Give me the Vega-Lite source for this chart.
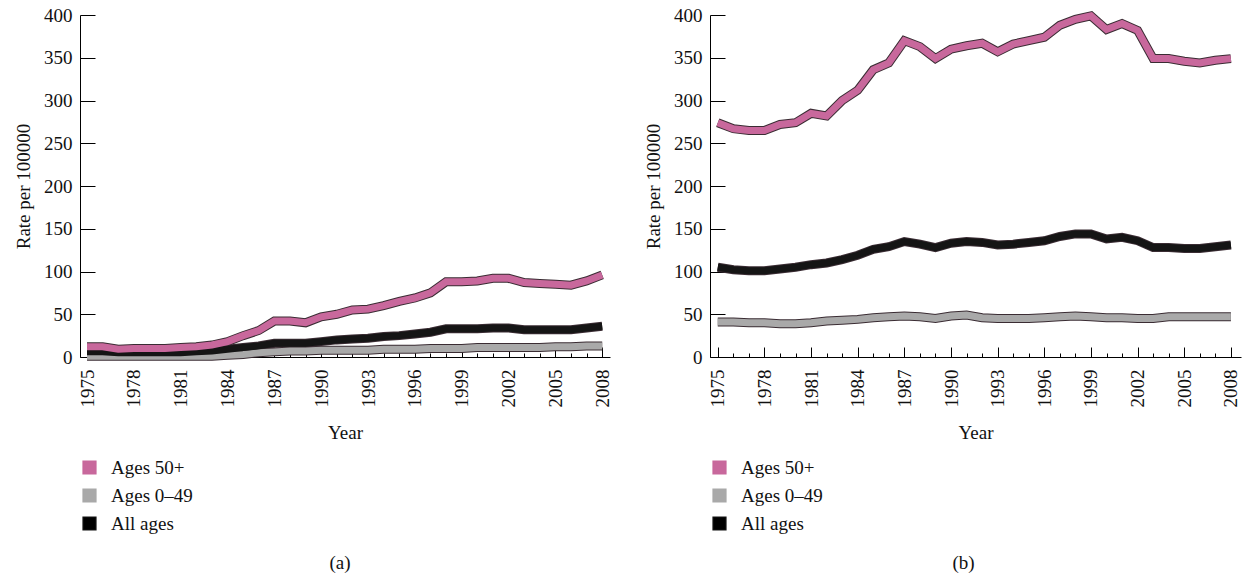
{
  "$schema": "https://vega.github.io/schema/vega-lite/v6.json",
  "padding": {"left": 14, "top": -3, "right": 0, "bottom": 0},
  "background": "white",
  "spacing": 100,
  "bounds": "flush",
  "datasets": {
    "a": [
      {"series": "Ages 0–49", "year": 1975, "rate": 1}, {"series": "Ages 0–49", "year": 1976, "rate": 1}, {"series": "Ages 0–49", "year": 1977, "rate": 1}, {"series": "Ages 0–49", "year": 1978, "rate": 1}, {"series": "Ages 0–49", "year": 1979, "rate": 1}, {"series": "Ages 0–49", "year": 1980, "rate": 1}, {"series": "Ages 0–49", "year": 1981, "rate": 1}, {"series": "Ages 0–49", "year": 1982, "rate": 1}, {"series": "Ages 0–49", "year": 1983, "rate": 1}, {"series": "Ages 0–49", "year": 1984, "rate": 2}, {"series": "Ages 0–49", "year": 1985, "rate": 3}, {"series": "Ages 0–49", "year": 1986, "rate": 5}, {"series": "Ages 0–49", "year": 1987, "rate": 6}, {"series": "Ages 0–49", "year": 1988, "rate": 7}, {"series": "Ages 0–49", "year": 1989, "rate": 7}, {"series": "Ages 0–49", "year": 1990, "rate": 8}, {"series": "Ages 0–49", "year": 1991, "rate": 8}, {"series": "Ages 0–49", "year": 1992, "rate": 8}, {"series": "Ages 0–49", "year": 1993, "rate": 8}, {"series": "Ages 0–49", "year": 1994, "rate": 9}, {"series": "Ages 0–49", "year": 1995, "rate": 9}, {"series": "Ages 0–49", "year": 1996, "rate": 9}, {"series": "Ages 0–49", "year": 1997, "rate": 10}, {"series": "Ages 0–49", "year": 1998, "rate": 10}, {"series": "Ages 0–49", "year": 1999, "rate": 10}, {"series": "Ages 0–49", "year": 2000, "rate": 11}, {"series": "Ages 0–49", "year": 2001, "rate": 11}, {"series": "Ages 0–49", "year": 2002, "rate": 11}, {"series": "Ages 0–49", "year": 2003, "rate": 11}, {"series": "Ages 0–49", "year": 2004, "rate": 11}, {"series": "Ages 0–49", "year": 2005, "rate": 12}, {"series": "Ages 0–49", "year": 2006, "rate": 12}, {"series": "Ages 0–49", "year": 2007, "rate": 13}, {"series": "Ages 0–49", "year": 2008, "rate": 13},
      {"series": "All ages", "year": 1975, "rate": 6}, {"series": "All ages", "year": 1976, "rate": 6}, {"series": "All ages", "year": 1977, "rate": 5}, {"series": "All ages", "year": 1978, "rate": 5}, {"series": "All ages", "year": 1979, "rate": 5}, {"series": "All ages", "year": 1980, "rate": 5}, {"series": "All ages", "year": 1981, "rate": 5}, {"series": "All ages", "year": 1982, "rate": 6}, {"series": "All ages", "year": 1983, "rate": 7}, {"series": "All ages", "year": 1984, "rate": 9}, {"series": "All ages", "year": 1985, "rate": 11}, {"series": "All ages", "year": 1986, "rate": 13}, {"series": "All ages", "year": 1987, "rate": 16}, {"series": "All ages", "year": 1988, "rate": 16}, {"series": "All ages", "year": 1989, "rate": 16}, {"series": "All ages", "year": 1990, "rate": 18}, {"series": "All ages", "year": 1991, "rate": 20}, {"series": "All ages", "year": 1992, "rate": 21}, {"series": "All ages", "year": 1993, "rate": 22}, {"series": "All ages", "year": 1994, "rate": 24}, {"series": "All ages", "year": 1995, "rate": 25}, {"series": "All ages", "year": 1996, "rate": 27}, {"series": "All ages", "year": 1997, "rate": 29}, {"series": "All ages", "year": 1998, "rate": 33}, {"series": "All ages", "year": 1999, "rate": 33}, {"series": "All ages", "year": 2000, "rate": 33}, {"series": "All ages", "year": 2001, "rate": 34}, {"series": "All ages", "year": 2002, "rate": 34}, {"series": "All ages", "year": 2003, "rate": 32}, {"series": "All ages", "year": 2004, "rate": 32}, {"series": "All ages", "year": 2005, "rate": 32}, {"series": "All ages", "year": 2006, "rate": 32}, {"series": "All ages", "year": 2007, "rate": 34}, {"series": "All ages", "year": 2008, "rate": 36},
      {"series": "Ages 50+", "year": 1975, "rate": 12}, {"series": "Ages 50+", "year": 1976, "rate": 12}, {"series": "Ages 50+", "year": 1977, "rate": 9}, {"series": "Ages 50+", "year": 1978, "rate": 10}, {"series": "Ages 50+", "year": 1979, "rate": 10}, {"series": "Ages 50+", "year": 1980, "rate": 10}, {"series": "Ages 50+", "year": 1981, "rate": 11}, {"series": "Ages 50+", "year": 1982, "rate": 12}, {"series": "Ages 50+", "year": 1983, "rate": 14}, {"series": "Ages 50+", "year": 1984, "rate": 18}, {"series": "Ages 50+", "year": 1985, "rate": 25}, {"series": "Ages 50+", "year": 1986, "rate": 31}, {"series": "Ages 50+", "year": 1987, "rate": 42}, {"series": "Ages 50+", "year": 1988, "rate": 42}, {"series": "Ages 50+", "year": 1989, "rate": 40}, {"series": "Ages 50+", "year": 1990, "rate": 47}, {"series": "Ages 50+", "year": 1991, "rate": 50}, {"series": "Ages 50+", "year": 1992, "rate": 55}, {"series": "Ages 50+", "year": 1993, "rate": 56}, {"series": "Ages 50+", "year": 1994, "rate": 60}, {"series": "Ages 50+", "year": 1995, "rate": 65}, {"series": "Ages 50+", "year": 1996, "rate": 69}, {"series": "Ages 50+", "year": 1997, "rate": 75}, {"series": "Ages 50+", "year": 1998, "rate": 88}, {"series": "Ages 50+", "year": 1999, "rate": 88}, {"series": "Ages 50+", "year": 2000, "rate": 89}, {"series": "Ages 50+", "year": 2001, "rate": 92}, {"series": "Ages 50+", "year": 2002, "rate": 92}, {"series": "Ages 50+", "year": 2003, "rate": 87}, {"series": "Ages 50+", "year": 2004, "rate": 86}, {"series": "Ages 50+", "year": 2005, "rate": 85}, {"series": "Ages 50+", "year": 2006, "rate": 84}, {"series": "Ages 50+", "year": 2007, "rate": 89}, {"series": "Ages 50+", "year": 2008, "rate": 96}
    ],
    "b": [
      {"series": "Ages 0–49", "year": 1975, "rate": 41}, {"series": "Ages 0–49", "year": 1976, "rate": 41}, {"series": "Ages 0–49", "year": 1977, "rate": 40}, {"series": "Ages 0–49", "year": 1978, "rate": 40}, {"series": "Ages 0–49", "year": 1979, "rate": 39}, {"series": "Ages 0–49", "year": 1980, "rate": 39}, {"series": "Ages 0–49", "year": 1981, "rate": 40}, {"series": "Ages 0–49", "year": 1982, "rate": 42}, {"series": "Ages 0–49", "year": 1983, "rate": 43}, {"series": "Ages 0–49", "year": 1984, "rate": 44}, {"series": "Ages 0–49", "year": 1985, "rate": 46}, {"series": "Ages 0–49", "year": 1986, "rate": 47}, {"series": "Ages 0–49", "year": 1987, "rate": 48}, {"series": "Ages 0–49", "year": 1988, "rate": 47}, {"series": "Ages 0–49", "year": 1989, "rate": 45}, {"series": "Ages 0–49", "year": 1990, "rate": 48}, {"series": "Ages 0–49", "year": 1991, "rate": 49}, {"series": "Ages 0–49", "year": 1992, "rate": 46}, {"series": "Ages 0–49", "year": 1993, "rate": 45}, {"series": "Ages 0–49", "year": 1994, "rate": 45}, {"series": "Ages 0–49", "year": 1995, "rate": 45}, {"series": "Ages 0–49", "year": 1996, "rate": 46}, {"series": "Ages 0–49", "year": 1997, "rate": 47}, {"series": "Ages 0–49", "year": 1998, "rate": 48}, {"series": "Ages 0–49", "year": 1999, "rate": 47}, {"series": "Ages 0–49", "year": 2000, "rate": 46}, {"series": "Ages 0–49", "year": 2001, "rate": 46}, {"series": "Ages 0–49", "year": 2002, "rate": 45}, {"series": "Ages 0–49", "year": 2003, "rate": 45}, {"series": "Ages 0–49", "year": 2004, "rate": 47}, {"series": "Ages 0–49", "year": 2005, "rate": 47}, {"series": "Ages 0–49", "year": 2006, "rate": 47}, {"series": "Ages 0–49", "year": 2007, "rate": 47}, {"series": "Ages 0–49", "year": 2008, "rate": 47},
      {"series": "All ages", "year": 1975, "rate": 105}, {"series": "All ages", "year": 1976, "rate": 102}, {"series": "All ages", "year": 1977, "rate": 101}, {"series": "All ages", "year": 1978, "rate": 101}, {"series": "All ages", "year": 1979, "rate": 103}, {"series": "All ages", "year": 1980, "rate": 105}, {"series": "All ages", "year": 1981, "rate": 108}, {"series": "All ages", "year": 1982, "rate": 110}, {"series": "All ages", "year": 1983, "rate": 114}, {"series": "All ages", "year": 1984, "rate": 119}, {"series": "All ages", "year": 1985, "rate": 126}, {"series": "All ages", "year": 1986, "rate": 129}, {"series": "All ages", "year": 1987, "rate": 135}, {"series": "All ages", "year": 1988, "rate": 132}, {"series": "All ages", "year": 1989, "rate": 128}, {"series": "All ages", "year": 1990, "rate": 133}, {"series": "All ages", "year": 1991, "rate": 135}, {"series": "All ages", "year": 1992, "rate": 134}, {"series": "All ages", "year": 1993, "rate": 131}, {"series": "All ages", "year": 1994, "rate": 132}, {"series": "All ages", "year": 1995, "rate": 134}, {"series": "All ages", "year": 1996, "rate": 136}, {"series": "All ages", "year": 1997, "rate": 141}, {"series": "All ages", "year": 1998, "rate": 144}, {"series": "All ages", "year": 1999, "rate": 144}, {"series": "All ages", "year": 2000, "rate": 138}, {"series": "All ages", "year": 2001, "rate": 140}, {"series": "All ages", "year": 2002, "rate": 136}, {"series": "All ages", "year": 2003, "rate": 128}, {"series": "All ages", "year": 2004, "rate": 128}, {"series": "All ages", "year": 2005, "rate": 127}, {"series": "All ages", "year": 2006, "rate": 127}, {"series": "All ages", "year": 2007, "rate": 129}, {"series": "All ages", "year": 2008, "rate": 131},
      {"series": "Ages 50+", "year": 1975, "rate": 274}, {"series": "Ages 50+", "year": 1976, "rate": 267}, {"series": "Ages 50+", "year": 1977, "rate": 265}, {"series": "Ages 50+", "year": 1978, "rate": 265}, {"series": "Ages 50+", "year": 1979, "rate": 272}, {"series": "Ages 50+", "year": 1980, "rate": 274}, {"series": "Ages 50+", "year": 1981, "rate": 285}, {"series": "Ages 50+", "year": 1982, "rate": 282}, {"series": "Ages 50+", "year": 1983, "rate": 300}, {"series": "Ages 50+", "year": 1984, "rate": 312}, {"series": "Ages 50+", "year": 1985, "rate": 336}, {"series": "Ages 50+", "year": 1986, "rate": 344}, {"series": "Ages 50+", "year": 1987, "rate": 370}, {"series": "Ages 50+", "year": 1988, "rate": 363}, {"series": "Ages 50+", "year": 1989, "rate": 349}, {"series": "Ages 50+", "year": 1990, "rate": 360}, {"series": "Ages 50+", "year": 1991, "rate": 364}, {"series": "Ages 50+", "year": 1992, "rate": 367}, {"series": "Ages 50+", "year": 1993, "rate": 357}, {"series": "Ages 50+", "year": 1994, "rate": 366}, {"series": "Ages 50+", "year": 1995, "rate": 370}, {"series": "Ages 50+", "year": 1996, "rate": 374}, {"series": "Ages 50+", "year": 1997, "rate": 388}, {"series": "Ages 50+", "year": 1998, "rate": 395}, {"series": "Ages 50+", "year": 1999, "rate": 399}, {"series": "Ages 50+", "year": 2000, "rate": 383}, {"series": "Ages 50+", "year": 2001, "rate": 390}, {"series": "Ages 50+", "year": 2002, "rate": 382}, {"series": "Ages 50+", "year": 2003, "rate": 349}, {"series": "Ages 50+", "year": 2004, "rate": 349}, {"series": "Ages 50+", "year": 2005, "rate": 346}, {"series": "Ages 50+", "year": 2006, "rate": 344}, {"series": "Ages 50+", "year": 2007, "rate": 347}, {"series": "Ages 50+", "year": 2008, "rate": 349}
    ]
  },
  "hconcat": [
    {
      "width": 530, "height": 342,
      "data": {"name": "a"},
      "title": {"text": "(a)", "orient": "bottom", "offset": 20, "dx": -5},
      "resolve": {"axis": {"x": "independent"}},
      "layer": [
        {
          "mark": {"type": "line", "strokeWidth": 9, "color": "#3a2c33"},
          "encoding": {
            "x": {"field": "year", "type": "quantitative", "scale": {"domain": [1974.55, 2008.5], "nice": false, "zero": false},
              "axis": {"orient": "bottom", "values": [1975,1976,1977,1978,1979,1980,1981,1982,1983,1984,1985,1986,1987,1988,1989,1990,1991,1992,1993,1994,1995,1996,1997,1998,1999,2000,2001,2002,2003,2004,2005,2006,2007,2008], "labels": false, "tickSize": -4, "title": null}},
            "y": {"field": "rate", "type": "quantitative", "scale": {"domain": [0, 400], "nice": false},
              "axis": {"values": [0,50,100,150,200,250,300,350,400], "tickSize": -15, "title": "Rate per 100000", "labelPadding": 23, "titlePadding": 10}},
            "detail": {"field": "series"}
          }
        },
        {
          "mark": {"type": "line", "strokeWidth": 7},
          "encoding": {
            "x": {"field": "year", "type": "quantitative",
              "axis": {"orient": "bottom", "values": [1975,1978,1981,1984,1987,1990,1993,1996,1999,2002,2005,2008], "format": "d", "tickSize": -10, "labelAngle": -90, "labelPadding": 22, "domain": false, "title": "Year", "titlePadding": 16}},
            "y": {"field": "rate", "type": "quantitative"},
            "stroke": {"field": "series", "type": "nominal", "scale": {"domain": ["Ages 50+", "Ages 0–49", "All ages"], "range": ["#c8689c", "#a9a9a9", "#151515"]},
              "legend": {"orient": "bottom", "direction": "vertical", "offset": 16, "title": null, "symbolType": "square", "symbolSize": 169, "symbolStrokeColor": "#333333", "symbolStrokeWidth": 1.2, "labelOffset": 12, "rowPadding": 8,
                "encode": {"symbols": {"update": {"fill": {"signal": "datum.value === 'Ages 50+' ? '#c8689c' : datum.value === 'All ages' ? '#000000' : '#a9a9a9'"}, "stroke": {"value": "#333333"}, "strokeWidth": {"value": 1.2}, "opacity": {"value": 1}}}}}}
          }
        }
      ]
    },
    {
      "width": 531, "height": 342,
      "data": {"name": "b"},
      "title": {"text": "(b)", "orient": "bottom", "offset": 20, "dx": -12},
      "resolve": {"axis": {"x": "independent"}},
      "layer": [
        {
          "mark": {"type": "line", "strokeWidth": 9, "color": "#3a2c33"},
          "encoding": {
            "x": {"field": "year", "type": "quantitative", "scale": {"domain": [1974.5, 2008.65], "nice": false, "zero": false},
              "axis": {"orient": "bottom", "values": [1975,1976,1977,1978,1979,1980,1981,1982,1983,1984,1985,1986,1987,1988,1989,1990,1991,1992,1993,1994,1995,1996,1997,1998,1999,2000,2001,2002,2003,2004,2005,2006,2007,2008], "labels": false, "tickSize": -4, "title": null}},
            "y": {"field": "rate", "type": "quantitative", "scale": {"domain": [0, 400], "nice": false},
              "axis": {"values": [0,50,100,150,200,250,300,350,400], "tickSize": -15, "title": "Rate per 100000", "labelPadding": 23, "titlePadding": 10}},
            "detail": {"field": "series"}
          }
        },
        {
          "mark": {"type": "line", "strokeWidth": 7},
          "encoding": {
            "x": {"field": "year", "type": "quantitative",
              "axis": {"orient": "bottom", "values": [1975,1978,1981,1984,1987,1990,1993,1996,1999,2002,2005,2008], "format": "d", "tickSize": -10, "labelAngle": -90, "labelPadding": 22, "domain": false, "title": "Year", "titlePadding": 16}},
            "y": {"field": "rate", "type": "quantitative"},
            "stroke": {"field": "series", "type": "nominal", "scale": {"domain": ["Ages 50+", "Ages 0–49", "All ages"], "range": ["#c8689c", "#a9a9a9", "#151515"]},
              "legend": {"orient": "bottom", "direction": "vertical", "offset": 16, "title": null, "symbolType": "square", "symbolSize": 169, "symbolStrokeColor": "#333333", "symbolStrokeWidth": 1.2, "labelOffset": 12, "rowPadding": 8,
                "encode": {"symbols": {"update": {"fill": {"signal": "datum.value === 'Ages 50+' ? '#c8689c' : datum.value === 'All ages' ? '#000000' : '#a9a9a9'"}, "stroke": {"value": "#333333"}, "strokeWidth": {"value": 1.2}, "opacity": {"value": 1}}}}}}
          }
        }
      ]
    }
  ],
  "resolve": {"scale": {"stroke": "independent"}, "legend": {"stroke": "independent"}},
  "config": {
    "view": {"stroke": null},
    "font": "Liberation Serif",
    "axis": {"grid": false, "domainColor": "#000000", "tickColor": "#000000", "domainWidth": 1, "tickWidth": 1, "labelFont": "Liberation Serif", "labelFontSize": 19, "labelColor": "#111111", "titleFont": "Liberation Serif", "titleFontSize": 19, "titleFontWeight": "normal", "titleColor": "#111111"},
    "legend": {"labelFont": "Liberation Serif", "labelFontSize": 19, "labelColor": "#111111"},
    "title": {"font": "Liberation Serif", "fontSize": 19, "fontWeight": "normal", "color": "#111111"}
  }
}
